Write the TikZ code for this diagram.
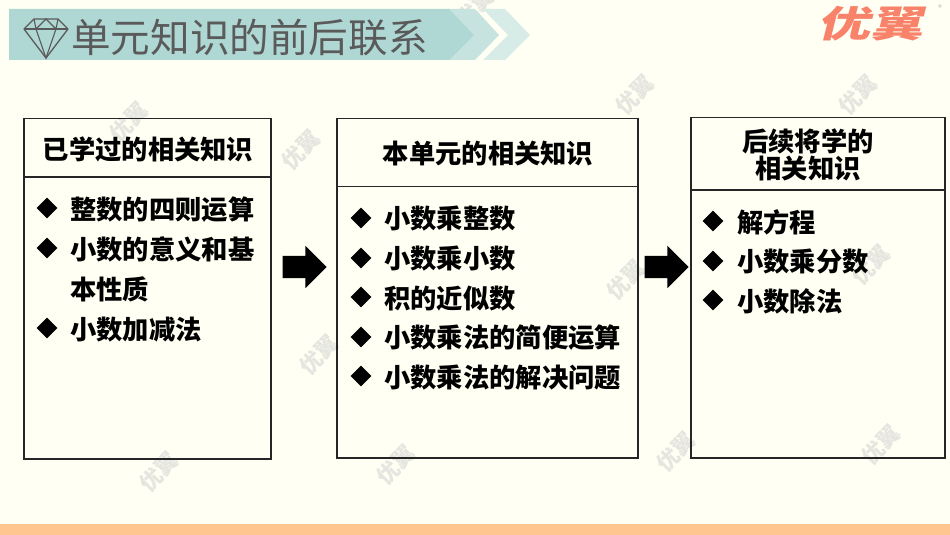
\documentclass[tikz,border=0pt]{standalone}
\usepackage{fontspec}
\usepackage{tikz}
\usetikzlibrary{shapes.geometric,shapes.arrows}
\setmainfont{Noto Sans CJK SC}

\definecolor{pagebg}{HTML}{FFFFF3}
\definecolor{bandmain}{HTML}{AFD8D4}
\definecolor{bandmid}{HTML}{C6E3DF}
\definecolor{bandlight}{HTML}{D8ECE7}
\definecolor{titlegray}{HTML}{5A5A5A}
\definecolor{logored}{HTML}{F8836A}
\definecolor{markgray}{HTML}{E6E6E0}
\definecolor{footband}{HTML}{FFC78F}

\tikzset{
	bodytext/.style={anchor=west,inner sep=0pt,font=\fontsize{26.3}{26.3}\selectfont\bfseries},
	headtext/.style={inner sep=0pt,align=center,font=\fontsize{26.3}{26.3}\selectfont\bfseries},
	bullet/.style={diamond,fill=black,inner sep=0pt,minimum width=21pt,minimum height=21pt},
	blockarrow/.style={single arrow,fill=black,inner xsep=0pt,inner ysep=11pt,minimum height=44pt,minimum width=42pt,
		single arrow head extend=10pt,single arrow tip angle=90},
	watermark/.style={rotate=45,text=markgray,inner sep=0pt,font=\fontsize{22}{22}\selectfont\bfseries},
	knowbox/.style={draw=black!85,line width=1.1pt}
}

\begin{document}
\begin{tikzpicture}[x=1pt,y=-1pt]
	\useasboundingbox (0,0) rectangle (950,535);
	\fill[pagebg] (0,0) rectangle (950,535);
	\fill[footband] (0,524) rectangle (950,535);

	% watermarks
	\node[watermark] (marka) at (129,122) {优翼};
	\node[watermark] (markb) at (301,150) {优翼};
	\node[watermark] (markc) at (635,95) {优翼};
	\node[watermark] (markd) at (858,95) {优翼};
	\node[watermark] (marke) at (159,472) {优翼};
	\node[watermark] (markf) at (396,465) {优翼};
	\node[watermark] (markg) at (676,452) {优翼};
	\node[watermark] (markh) at (881,445) {优翼};
	\node[watermark] (marki) at (319,355) {优翼};
	\node[watermark] (markj) at (626,280) {优翼};
	\node[watermark] (markk) at (871,265) {优翼};
	\node[watermark] (markl) at (475,8) {优翼};

	% title band
	\fill[bandlight] (483,9)--(505,9)--(530,35)--(505,60)--(483,60)--(508,35)--cycle;
	\fill[bandmid] (448,9)--(475,9)--(499,35)--(475,60)--(448,60)--(474,35)--cycle;
	\fill[bandmain] (9,9)--(449,9)--(474,35)--(449,60)--(9,60)--cycle;

	% diamond icon
	\draw[titlegray,line width=1.3pt,line join=round] (34,19)--(58,19)--(68,29)--(46,58)--(24,29)--cycle;
	\draw[titlegray,line width=1.1pt] (24,29)--(68,29);
	\draw[titlegray,line width=1.1pt] (34,19)--(36,29)--(46,19)--(56,29)--(58,19);
	\draw[titlegray,line width=1.1pt] (36,29)--(46,58)--(56,29);

	\node[anchor=west,inner sep=0pt,text=titlegray,font=\fontsize{39.6}{39.6}\selectfont] (title) at (71,38) {单元知识的前后联系};

	% logo
	\node[text=logored,xslant=0.25,xscale=1.15,yscale=0.8,inner sep=0pt,font=\fontsize{46}{46}\selectfont\bfseries] (logo) at (874,24) {优翼};
	\node[text=black!35,inner sep=0pt,font=\fontsize{7}{7}\selectfont] (regmark) at (940,8) {®};

	% boxes
	\draw[knowbox] (24,118.5) rectangle (271,459);
	\draw[knowbox] (24,177)--(271,177);
	\draw[knowbox] (337,118.5) rectangle (638,458);
	\draw[knowbox] (337,186.5)--(638,186.5);
	\draw[knowbox] (691,117.5) rectangle (945,458);
	\draw[knowbox] (691,190)--(945,190);

	\node[headtext] (heada) at (148,149) {已学过的相关知识};
	\node[headtext] (headb) at (488,153) {本单元的相关知识};
	\node[headtext] (headc) at (808,155) {后续将学的\\[0pt]相关知识};

	% first box
	\node[bullet] (dota) at (47,208) {};
	\node[bodytext] (texta) at (70,209.5) {整数的四则运算};
	\node[bullet] (dotb) at (47,248) {};
	\node[bodytext] (textb) at (70,249.5) {小数的意义和基};
	\node[bodytext] (textc) at (70,289.5) {本性质};
	\node[bullet] (dotc) at (47,328) {};
	\node[bodytext] (textd) at (70,329.5) {小数加减法};

	% second box
	\node[bullet] (dotd) at (361,218) {};
	\node[bodytext] (texte) at (384,219) {小数乘整数};
	\node[bullet] (dote) at (361,258) {};
	\node[bodytext] (textf) at (384,259) {小数乘小数};
	\node[bullet] (dotf) at (361,297) {};
	\node[bodytext] (textg) at (384,298.5) {积的近似数};
	\node[bullet] (dotg) at (361,337) {};
	\node[bodytext] (texth) at (384,338) {小数乘法的简便运算};
	\node[bullet] (doth) at (361,376) {};
	\node[bodytext] (texti) at (384,377.5) {小数乘法的解决问题};

	% third box
	\node[bullet] (doti) at (713,221) {};
	\node[bodytext] (textj) at (737,222) {解方程};
	\node[bullet] (dotj) at (713,261) {};
	\node[bodytext] (textk) at (737,262) {小数乘分数};
	\node[bullet] (dotk) at (713,300) {};
	\node[bodytext] (textl) at (737,301.5) {小数除法};

	% arrows between boxes
	\node[blockarrow] (arrowa) at (299,267) {};
	\node[blockarrow] (arrowb) at (661,267) {};
\end{tikzpicture}
\end{document}
